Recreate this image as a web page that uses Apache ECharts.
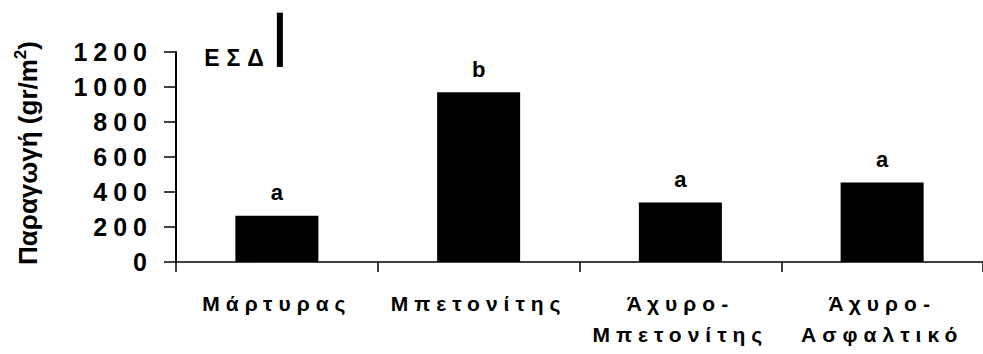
<!DOCTYPE html>
<html>
<head>
<meta charset="utf-8">
<script src="https://cdn.jsdelivr.net/npm/echarts@6/dist/echarts.min.js"></script>
<style>
  html, body { margin: 0; padding: 0; background: #fff; }
  #chart { width: 983px; height: 354px; }
  /* spaced-out lettering, keyed on font size */
  #chart text[style*="25px"] { letter-spacing: 6px; }
  #chart text[style*="21px"] { letter-spacing: 6px; }
  #chart text[style*="23px"] { letter-spacing: 7px; }
</style>
</head>
<body>
<div id="chart"></div>
<script>
// Treatments
const categories = ['Μάρτυρας', 'Μπετονίτης', 'Άχυρο-\nΜπετονίτης', 'Άχυρο-\nΑσφαλτικό'];
// Production, gr/m²
const production = [265, 970, 340, 455];
// Significance groups
const groups = ['a', 'b', 'a', 'a'];
// Least significant difference bar
const lsdValue = 310;
const lsdBase = 1115;
// Value axis
const yMin = 0;
const yMax = 1200;
const yStep = 200;

const FONT = '"Liberation Sans", Arial, sans-serif';

const chart = echarts.init(document.getElementById('chart'), null, { renderer: 'svg' });

chart.setOption({
  animation: false,
  backgroundColor: '#fff',
  grid: { left: 176, right: -11, top: 52, bottom: 92, containLabel: false },
  xAxis: {
    type: 'category',
    data: categories,
    axisLine: { show: true, lineStyle: { color: '#000', width: 1.5 } },
    axisTick: { show: true, length: 10, lineStyle: { color: '#000', width: 1.5 } },
    axisLabel: {
      color: '#000',
      fontFamily: FONT,
      fontWeight: 'bold',
      fontSize: 21,
      lineHeight: 31,
      margin: 26,
      interval: 0
    },
    splitLine: { show: false }
  },
  yAxis: {
    type: 'value',
    min: yMin,
    max: yMax,
    interval: yStep,
    name: '{t|Παραγωγή (gr/m}{s|2}{t|)}',
    nameLocation: 'middle',
    nameRotate: 90,
    nameGap: 133,
    nameTextStyle: {
      padding: [0, 0, 0, 8],
      rich: {
        t: { fontFamily: FONT, fontWeight: 'bold', fontSize: 26, color: '#000', lineHeight: 31 },
        s: { fontFamily: FONT, fontWeight: 'bold', fontSize: 17, color: '#000', verticalAlign: 'top', lineHeight: 31 }
      }
    },
    axisLine: { show: true, lineStyle: { color: '#000', width: 2 } },
    axisTick: { show: true, length: 12, lineStyle: { color: '#000', width: 1.5 } },
    axisLabel: {
      color: '#000',
      fontFamily: FONT,
      fontWeight: 'bold',
      fontSize: 25,
      margin: 23,
      formatter: (v) => String(v)
    },
    splitLine: { show: false }
  },
  series: [
    {
      type: 'bar',
      data: production,
      barWidth: 83,
      itemStyle: { color: '#000' },
      label: {
        show: true,
        position: 'top',
        distance: 12,
        color: '#000',
        fontFamily: FONT,
        fontWeight: 'bold',
        fontSize: 22,
        formatter: (p) => groups[p.dataIndex]
      }
    },
    {
      type: 'custom',
      coordinateSystem: 'cartesian2d',
      clip: false,
      data: [[0, lsdBase, lsdBase + lsdValue]],
      encode: { x: 0, y: [1, 2] },
      renderItem: function (params, api) {
        const bottom = api.coord([api.value(0), api.value(1)]);
        const top = api.coord([api.value(0), api.value(2)]);
        return {
          type: 'group',
          children: [
            {
              type: 'rect',
              shape: { x: bottom[0], y: top[1], width: 6, height: bottom[1] - top[1] },
              style: { fill: '#000' }
            },
            {
              type: 'text',
              style: {
                text: 'ΕΣΔ',
                x: bottom[0] - 6,
                y: bottom[1] - 9,
                align: 'right',
                verticalAlign: 'middle',
                fill: '#000',
                font: 'bold 23px "Liberation Sans", Arial, sans-serif'
              }
            }
          ]
        };
      }
    }
  ]
});
</script>
</body>
</html>
